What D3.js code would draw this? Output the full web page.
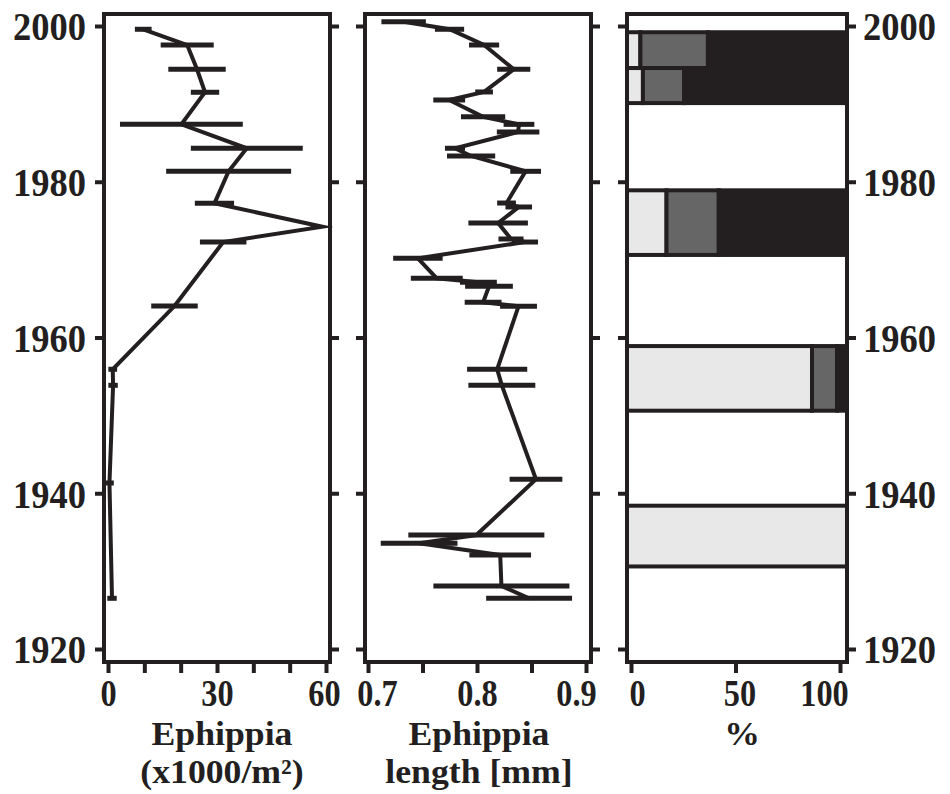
<!DOCTYPE html>
<html>
<head>
<meta charset="utf-8">
<script src="https://cdn.jsdelivr.net/npm/d3@7"></script>
<style>
  body { margin: 0; background: #fff; }
  svg text { font-family: "Liberation Serif", "Times New Roman", serif; font-weight: bold; fill: #231f20; }
</style>
</head>
<body>
<svg id="chart" width="950" height="794"></svg>
<script>
// Ephippia concentration (x1000/m²) by year, with error half-widths
const concYears = [1999.58, 1997.56, 1994.44, 1991.49, 1987.38, 1984.30, 1981.35, 1977.23, 1974.23, 1972.26, 1964.04, 1955.92, 1953.86, 1941.32, 1926.51];
const concValues = [9.7, 21.8, 24.5, 26.7, 20.2, 38.2, 33.2, 29.3, 59.0, 31.7, 18.3, 1.3, 1.4, 0.4, 1.1];
const concErrors = [2.3, 7.3, 7.9, 3.9, 16.9, 15.4, 17.2, 5.4, 0, 6.4, 6.4, 1.2, 1.3, 1.2, 1.3];

// Ephippia length (mm) by year, with error half-widths
const lenYears = [2000.55, 1999.58, 1997.56, 1994.44, 1991.53, 1990.50, 1988.35, 1987.37, 1986.39, 1984.30, 1983.31, 1981.34, 1977.27, 1976.76, 1974.70, 1972.65, 1972.26, 1970.17, 1967.60, 1967.09, 1966.57, 1964.52, 1964.01, 1955.92, 1953.86, 1941.79, 1934.64, 1933.57, 1932.07, 1928.09, 1926.51];
const lenValues = [0.7327, 0.7748, 0.8065, 0.8337, 0.8065, 0.7745, 0.8056, 0.8385, 0.8377, 0.7798, 0.7946, 0.8446, 0.8271, 0.8383, 0.8194, 0.8312, 0.8440, 0.7458, 0.7631, 0.8013, 0.8110, 0.8056, 0.8381, 0.8185, 0.8228, 0.8541, 0.7994, 0.7469, 0.8213, 0.8224, 0.8478];
const lenErrors = [0.0204, 0.0134, 0.0138, 0.0152, 0.0081, 0.0146, 0.0203, 0.0141, 0.0195, 0.0092, 0.0221, 0.0141, 0.0086, 0.0122, 0.0273, 0.0115, 0.0120, 0.0227, 0.0238, 0.0169, 0.0219, 0.0169, 0.0169, 0.0276, 0.0307, 0.0242, 0.0624, 0.0352, 0.0283, 0.0624, 0.0394];

// Composition (%) of sediment intervals: light, mid and dark classes
const bandTop = [1999.2, 1994.6, 1978.9, 1958.9, 1938.4];
const bandBottom = [1994.6, 1990.1, 1970.6, 1950.6, 1930.6];
const pctLight = [4.5, 5.7, 17.0, 86.6, 100];
const pctMid = [32.3, 19.7, 25.0, 12.0, 0];
const pctDark = [63.2, 74.6, 58.0, 1.4, 0];

const yearTicks = [1920, 1940, 1960, 1980, 2000];
const concTicks = [0, 10, 20, 30, 40, 50, 60];
const concLabels = [0, 30, 60];
const lenTicks = [0.7, 0.75, 0.8, 0.85, 0.9];
const lenLabels = [0.7, 0.8, 0.9];
const pctTicks = [0, 50, 100];

const ink = "#231f20";
const svg = d3.select("#chart");

const plotTop = 14, plotBottom = 662;
const panels = {
  conc: [104, 330],
  len: [365, 591],
  pct: [627, 847]
};

const y = d3.scaleLinear().domain([1920, 2000]).range([649, 26]);
const xConc = d3.scaleLinear().domain([0, 60]).range([108, 326]);
const xLen = d3.scaleLinear().domain([0.7, 0.9]).range([368, 586]);
const xPct = d3.scaleLinear().domain([0, 100]).range([631, 840]);

// narrow the glyphs horizontally while keeping each label's anchor point fixed
function condense(sel, sx) {
  sel.each(function () {
    const t = d3.select(this);
    const x = +t.attr("x") || 0;
    const prev = t.attr("transform") || "";
    t.attr("transform", `${prev} translate(${x * (1 - sx)},0) scale(${sx},1)`);
  });
}

function styleAxis(g) {
  g.select(".domain").remove();
  g.selectAll(".tick line").attr("stroke", ink).attr("stroke-width", 4);
}

function yAxes(key, labelLeft, labelRight) {
  const [x0, x1] = panels[key];
  const l = svg.append("g").attr("transform", `translate(${x0},0)`)
    .call(d3.axisLeft(y).tickValues(yearTicks).tickSize(9).tickPadding(9)
      .tickFormat(labelLeft ? d3.format("d") : ""));
  styleAxis(l);
  const r = svg.append("g").attr("transform", `translate(${x1},0)`)
    .call(d3.axisRight(y).tickValues(yearTicks).tickSize(9).tickPadding(7)
      .tickFormat(labelRight ? d3.format("d") : ""));
  styleAxis(r);
  [l, r].forEach(g => {
    const txt = g.selectAll(".tick text").attr("font-size", 41).attr("dy", "0.34em");
    condense(txt, 0.89);
  });
}

function xAxis(scale, ticks, labels, fmt, shifts) {
  const g = svg.append("g").attr("transform", `translate(0,${plotBottom})`)
    .call(d3.axisBottom(scale).tickValues(ticks).tickSize(11).tickPadding(6)
      .tickFormat(d => labels.some(v => Math.abs(v - d) < 1e-9) ? fmt(d) : ""));
  styleAxis(g);
  const txt = g.selectAll(".tick text").attr("font-size", 38)
    .attr("transform", (d) => {
      const i = labels.findIndex(v => Math.abs(v - d) < 1e-9);
      return `translate(${i >= 0 && shifts ? shifts[i] : 0},0)`;
    });
  condense(txt, 0.85);
}

// composition bars
const bands = bandTop.map((t, i) => ({ t, b: bandBottom[i], parts: [pctLight[i], pctMid[i], pctDark[i]] }));
const fills = ["#e8e8e8", "#666666", ink];
const [pl, pr] = panels.pct;
const edge = v => v <= 0 ? pl : v >= 100 - 1e-9 ? pr : xPct(v);
bands.forEach(band => {
  let acc = 0;
  band.parts.forEach((p, k) => {
    if (p <= 0) return;
    const a = acc, b = acc + p;
    acc = b;
    svg.append("rect")
      .attr("x", edge(a)).attr("width", edge(b) - edge(a))
      .attr("y", y(band.t)).attr("height", y(band.b) - y(band.t))
      .attr("fill", fills[k]).attr("stroke", ink).attr("stroke-width", 4);
  });
});

// panel frames
Object.values(panels).forEach(([x0, x1]) => {
  svg.append("rect").attr("x", x0).attr("y", plotTop)
    .attr("width", x1 - x0).attr("height", plotBottom - plotTop)
    .attr("fill", "none").attr("stroke", ink).attr("stroke-width", 4);
});

yAxes("conc", true, false);
yAxes("len", false, false);
yAxes("pct", false, true);

xAxis(xConc, concTicks, concLabels, d3.format("d"), [0, 0, -2]);
xAxis(xLen, lenTicks, lenLabels, d3.format(".1f"), [9, 0, -10]);
xAxis(xPct, pctTicks, pctTicks, d3.format("d"), [6, 4, -16]);

// profile lines with horizontal error bars
function profile(years, values, errors, xs) {
  const pts = years.map((yr, i) => ({ yr, v: values[i], e: errors[i] }));
  svg.append("g").selectAll("line").data(pts.filter(d => d.e > 0)).join("line")
    .attr("x1", d => xs(d.v - d.e)).attr("x2", d => xs(d.v + d.e))
    .attr("y1", d => y(d.yr)).attr("y2", d => y(d.yr))
    .attr("stroke", ink).attr("stroke-width", 5);
  svg.append("path").datum(pts)
    .attr("d", d3.line().x(d => xs(d.v)).y(d => y(d.yr)))
    .attr("fill", "none").attr("stroke", ink).attr("stroke-width", 4)
    .attr("stroke-linejoin", "miter").attr("stroke-miterlimit", 6);
}
profile(concYears, concValues, concErrors, xConc);
profile(lenYears, lenValues, lenErrors, xLen);

// axis titles (multi-line titles as tspans of one text)
const titles = [
  { x: 222, lines: ["Ephippia", "(x1000/m²)"] },
  { x: 479, lines: ["Ephippia", "length [mm]"] },
  { x: 742, lines: ["%"] }
];
titles.forEach(t => {
  const txt = svg.append("text")
    .attr("transform", `translate(${t.x},745) scale(1.05,1)`)
    .attr("text-anchor", "middle").attr("font-size", 34);
  t.lines.forEach((s, i) => {
    txt.append("tspan").attr("x", 0).attr("dy", i === 0 ? 0 : 38).text(s);
  });
});
</script>
</body>
</html>
